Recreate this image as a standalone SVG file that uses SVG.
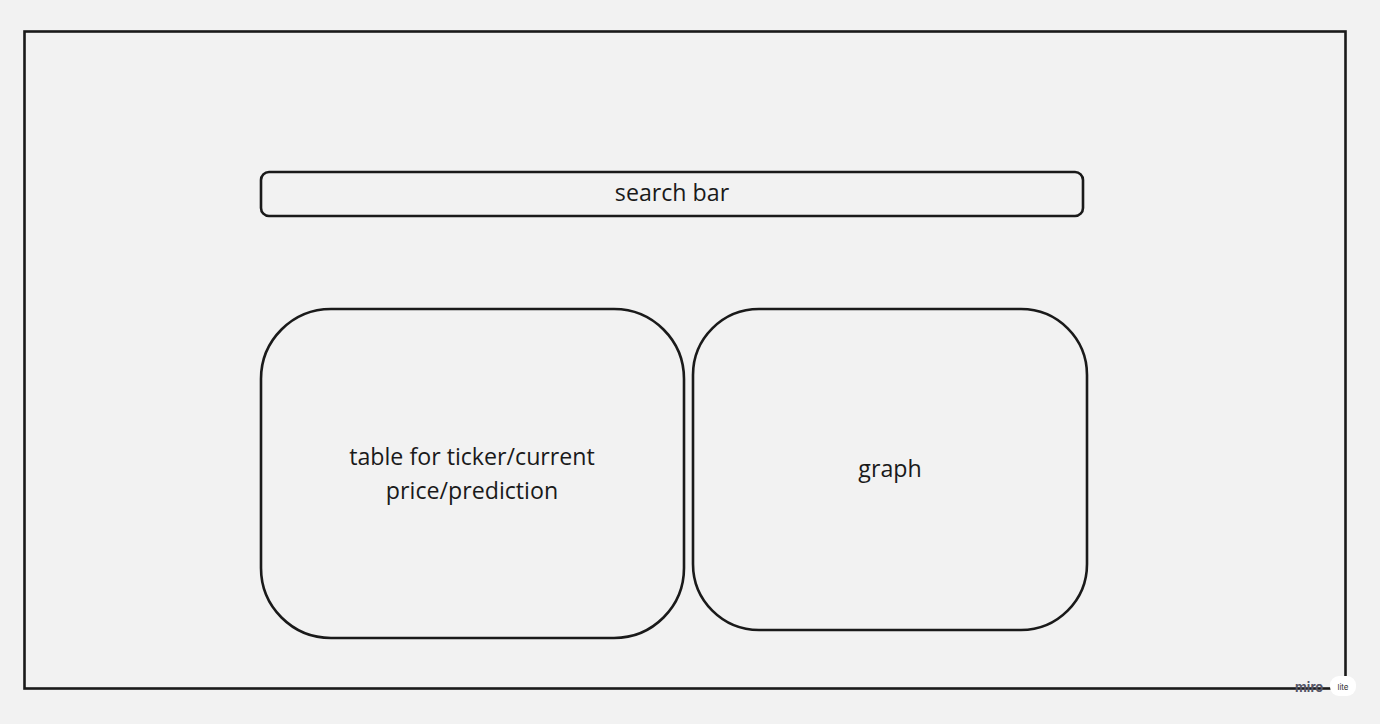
<svg xmlns="http://www.w3.org/2000/svg" width="1380" height="724" viewBox="0 0 1380 724">
<style>
.box{fill:none;stroke:#1a1a1a;stroke-width:2.6}
.t{font-family:"Open Sans","Noto Sans",sans-serif;font-size:23.2px;fill:#1a1a1a;text-anchor:middle}
</style>
<rect width="1380" height="724" fill="#f2f2f2"/>
<g id="frame"><rect class="box" x="24.5" y="31.5" width="1321" height="657" stroke-width="3"/></g>
<g id="search-bar"><rect class="box" x="261" y="172" width="822" height="44" rx="8"/><text class="t" x="672" y="201">search bar</text></g>
<g id="table"><rect class="box" x="261" y="309" width="423" height="329" rx="70"/><text class="t" x="472" y="465">table for ticker/current</text><text class="t" x="472" y="499">price/prediction</text></g>
<g id="graph"><rect class="box" x="693" y="309" width="394" height="321" rx="66"/><text class="t" x="890" y="477">graph</text></g>
<g id="connectors"/>
<g id="watermark"><rect x="1330" y="676" width="26" height="20" rx="9" fill="#ffffff"/><text x="1295" y="692" font-family="Inter,sans-serif" font-size="13" font-weight="bold" fill="#555566">miro</text><text x="1343" y="690" font-family="Inter,sans-serif" font-size="8" fill="#333" text-anchor="middle">lite</text></g>
</svg>
